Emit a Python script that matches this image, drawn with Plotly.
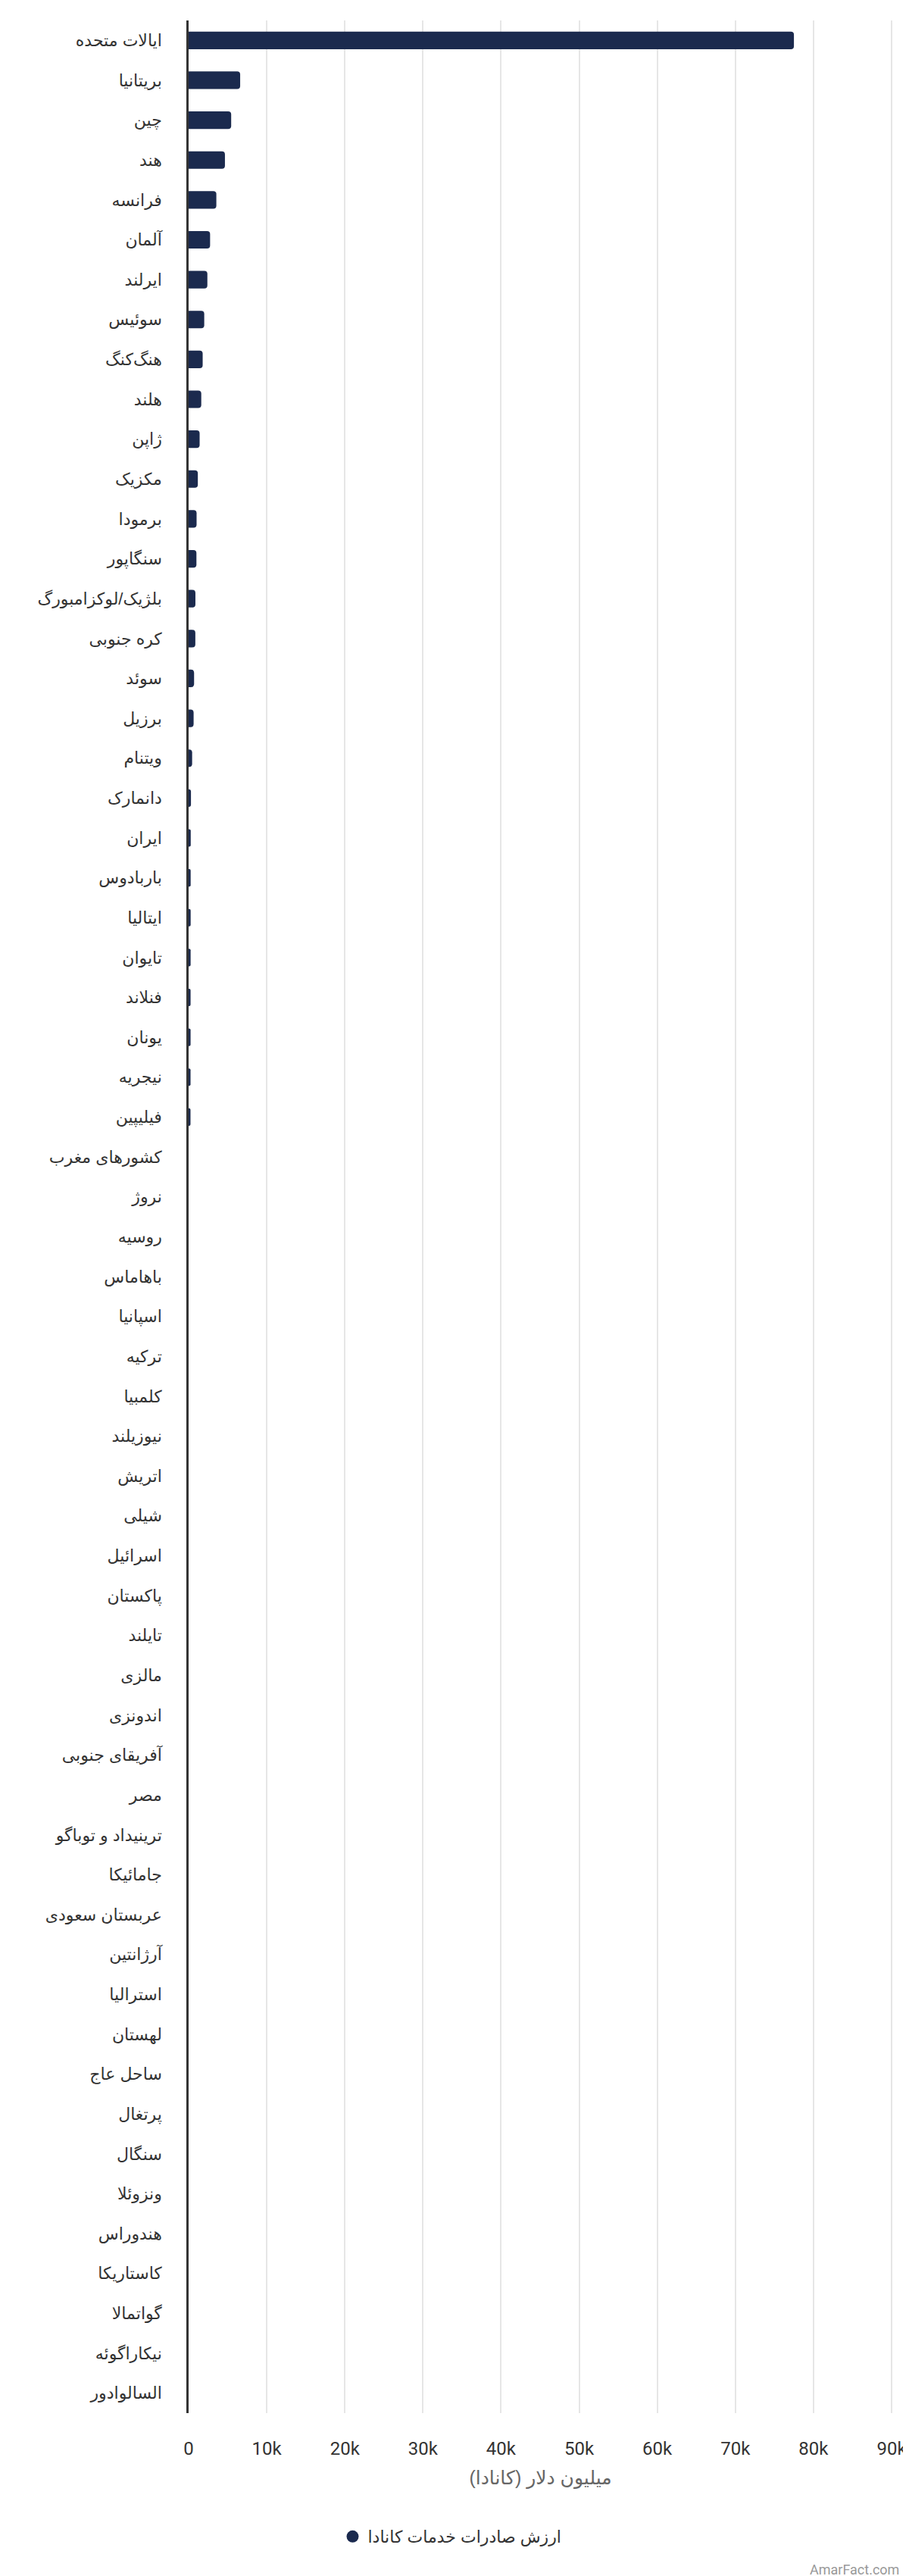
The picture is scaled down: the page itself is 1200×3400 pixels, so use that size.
import plotly.graph_objects as go

# countries, top to bottom
countries = [
    "ایالات متحده", "بریتانیا", "چین", "هند", "فرانسه", "آلمان", "ایرلند", "سوئیس",
    "هنگ‌کنگ", "هلند", "ژاپن", "مکزیک", "برمودا", "سنگاپور", "بلژیک/لوکزامبورگ",
    "کره جنوبی", "سوئد", "برزیل", "ویتنام", "دانمارک", "ایران", "باربادوس", "ایتالیا",
    "تایوان", "فنلاند", "یونان", "نیجریه", "فیلیپین", "کشورهای مغرب", "نروژ", "روسیه",
    "باهاماس", "اسپانیا", "ترکیه", "کلمبیا", "نیوزیلند", "اتریش", "شیلی", "اسرائیل",
    "پاکستان", "تایلند", "مالزی", "اندونزی", "آفریقای جنوبی", "مصر", "ترینیداد و توباگو",
    "جامائیکا", "عربستان سعودی", "آرژانتین", "استرالیا", "لهستان", "ساحل عاج", "پرتغال",
    "سنگال", "ونزوئلا", "هندوراس", "کاستاریکا", "گواتمالا", "نیکاراگوئه", "السالوادور",
]

# million CAD (the lower rows are too small to see)
values = [
    77500, 6600, 5450, 4650, 3550, 2750, 2400, 2000, 1800, 1620,
    1410, 1180, 1020, 1000, 870, 860, 700, 640, 450, 300,
    270, 260, 260, 255, 250, 250, 245, 240, 0, 0,
    0, 0, 0, 0, 0, 0, 0, 0, 0, 0,
    0, 0, 0, 0, 0, 0, 0, 0, 0, 0,
    0, 0, 0, 0, 0, 0, 0, 0, 0, 0,
]

x_ticks = [0, 10000, 20000, 30000, 40000, 50000, 60000, 70000, 80000, 90000]
x_tick_text = ["0", "10k", "20k", "30k", "40k", "50k", "60k", "70k", "80k", "90k"]

series_name = "ارزش صادرات خدمات کانادا"
x_title = "میلیون دلار (کانادا)"
credit = "AmarFact.com"

navy = "#1b2a4e"
label_font = "Arial, 'DejaVu Sans', sans-serif"

fig = go.Figure()
fig.add_trace(go.Bar(
    x=values, y=countries, orientation="h",
    marker=dict(color=navy, line=dict(width=0)),
    showlegend=False, name=series_name,
))
# legend entry with a round marker
fig.add_trace(go.Scatter(
    x=[None], y=[None], mode="markers", name=series_name,
    marker=dict(color=navy, size=24, symbol="circle"),
))

fig.update_layout(
    width=1200, height=3400,
    margin=dict(l=241, r=30, t=19, b=223),
    plot_bgcolor="white", paper_bgcolor="white",
    bargap=0.56, barcornerradius=4,
    font=dict(family=label_font, color="#333333"),
    legend=dict(
        orientation="h", xref="container", yref="container",
        x=0.49, xanchor="center", y=1 - 3340 / 3400, yanchor="middle",
        font=dict(size=22, color="#333333", family=label_font),
        itemsizing="trace",
    ),
    xaxis=dict(
        range=[0, 90100], tickvals=x_ticks, ticktext=x_tick_text,
        automargin=False,
        showgrid=True, gridcolor="#e6e6e6", gridwidth=1.5,
        zeroline=False, showline=False, ticks="",
        ticklabelstandoff=30, ticklabeloverflow="allow",
        tickfont=dict(family="Roboto", size=24, color="#333333"),
        title=dict(text=x_title, standoff=16,
                   font=dict(family=label_font, size=25, color="#666666")),
    ),
    yaxis=dict(
        categoryorder="array", categoryarray=countries, autorange="reversed",
        automargin=False,
        showline=True, linecolor="#333333", linewidth=2.5,
        showgrid=False, ticks="", ticklabelstandoff=28,
        tickfont=dict(family=label_font, size=22, color="#333333"),
    ),
)

fig.add_annotation(
    text=credit, xref="paper", yref="paper", x=1, y=(3177 - 3383) / 3158,
    xanchor="right", xshift=11, yanchor="middle", showarrow=False,
    font=dict(family="Roboto", size=18, color="#999999"),
)

fig.write_html("out.html")
